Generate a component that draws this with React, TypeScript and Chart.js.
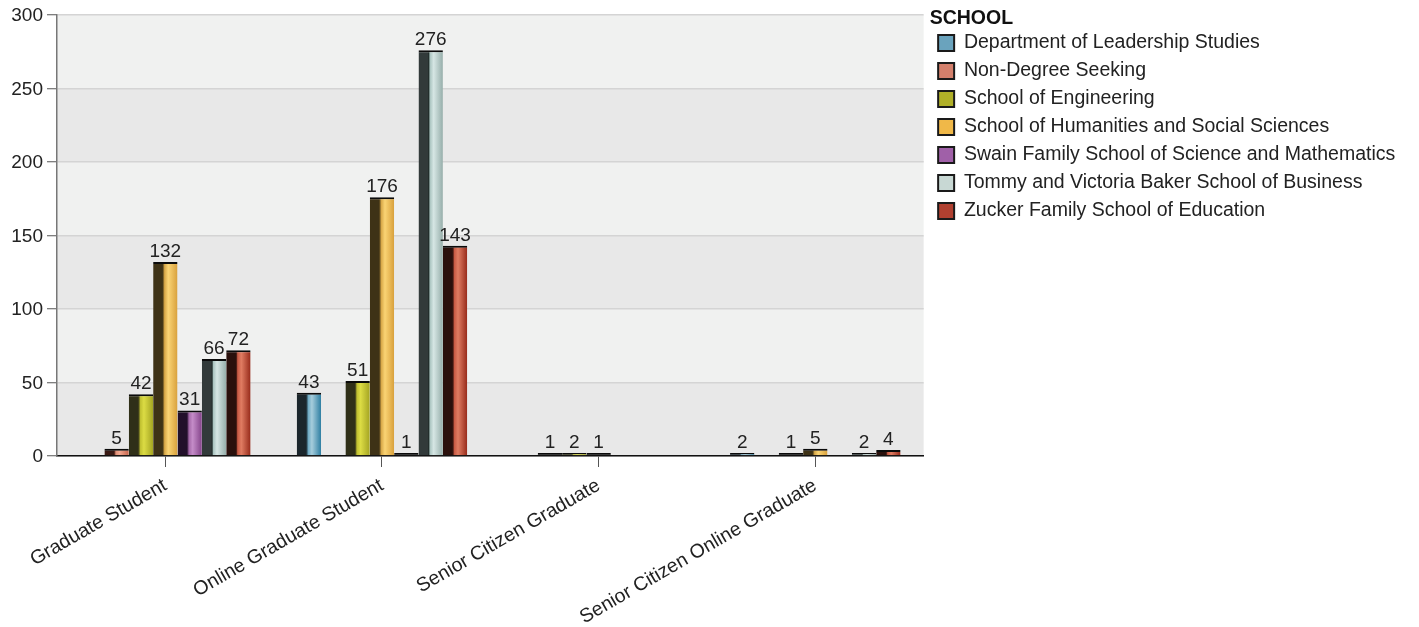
import React, { useEffect, useRef } from 'react';
import { Chart, registerables } from 'chart.js';

Chart.register(...registerables);

const categories = [
  'Graduate Student',
  'Online Graduate Student',
  'Senior Citizen Graduate',
  'Senior Citizen Online Graduate',
];

const seriesNames = [
  'Department of Leadership Studies',
  'Non-Degree Seeking',
  'School of Engineering',
  'School of Humanities and Social Sciences',
  'Swain Family School of Science and Mathematics',
  'Tommy and Victoria Baker School of Business',
  'Zucker Family School of Education',
];

const leadership = [null, 43, null, 2];
const nonDegree = [5, null, 1, null];
const engineering = [42, 51, 2, 1];
const humanities = [132, 176, 1, 5];
const swain = [31, 1, null, null];
const baker = [66, 276, null, 2];
const zucker = [72, 143, null, 4];

const seriesValues = [leadership, nonDegree, engineering, humanities, swain, baker, zucker];

const yTicks = [0, 50, 100, 150, 200, 250, 300];

const palette = [
  { dark: '#1b262c', edge: '#2c4a58', mid: '#6eaac4', light: '#a6cddc', right: '#2d7ea2', swatch: '#6aa3bd' },
  { dark: '#3a1a14', edge: '#6a3428', mid: '#e09078', light: '#f2a890', right: '#c8644c', swatch: '#d4806c' },
  { dark: '#2f2f18', edge: '#55551e', mid: '#c0c030', light: '#dcdc44', right: '#a4a422', swatch: '#b0b028' },
  { dark: '#3e3216', edge: '#7a6028', mid: '#d8a848', light: '#fad474', right: '#d8a03c', swatch: '#f0b848' },
  { dark: '#22102a', edge: '#4a2a52', mid: '#a468a8', light: '#c48cc8', right: '#84448a', swatch: '#a060a8' },
  { dark: '#323a3a', edge: '#1e2a28', mid: '#aac4c0', light: '#d6e6e4', right: '#96aeaa', swatch: '#c8d8d4' },
  { dark: '#2a100c', edge: '#4a1c14', mid: '#c85a44', light: '#e07c62', right: '#962a1a', swatch: '#b04030' },
];

const CAT_PCT = 0.787;
const FONT = '"Liberation Sans", Arial, sans-serif';
const LEGEND_MAX_W = 520;

function barFill(di: number) {
  return (ctx: any) => {
    const chart = ctx.chart;
    const xs = chart.scales && chart.scales.x;
    const ys = chart.scales && chart.scales.y;
    const p = palette[di];
    if (!xs || !ys || !chart.chartArea || ctx.type !== 'data') return p.swatch;
    const v = ctx.raw;
    if (typeof v === 'number' && ys.getPixelForValue(0) - ys.getPixelForValue(v) < 2.5) return '#111';
    const step = xs.getPixelForValue(1) - xs.getPixelForValue(0);
    const groupW = step * CAT_PCT;
    const bw = groupW / seriesValues.length;
    const left = xs.getPixelForValue(ctx.dataIndex) - groupW / 2 + bw * di;
    const g = chart.ctx.createLinearGradient(left, 0, left + bw, 0);
    g.addColorStop(0, p.dark);
    g.addColorStop(0.38, p.dark);
    g.addColorStop(0.42, p.edge);
    g.addColorStop(0.47, p.mid);
    g.addColorStop(0.62, p.light);
    g.addColorStop(1, p.right);
    return g;
  };
}

const bandsPlugin = {
  id: 'bands',
  beforeDraw(chart: any) {
    const { ctx, chartArea } = chart;
    const ys = chart.scales.y;
    ctx.save();
    for (let i = 0; i < yTicks.length - 1; i++) {
      const yTop = ys.getPixelForValue(yTicks[i + 1]);
      const yBot = ys.getPixelForValue(yTicks[i]);
      ctx.fillStyle = i % 2 === 0 ? '#e8e8e8' : '#f0f1f0';
      ctx.fillRect(chartArea.left, yTop, chartArea.right - chartArea.left, yBot - yTop);
    }
    ctx.restore();
  },
};

const valueLabelPlugin = {
  id: 'valueLabels',
  afterDatasetsDraw(chart: any) {
    const { ctx } = chart;
    ctx.save();
    ctx.font = `19px ${FONT}`;
    ctx.fillStyle = '#222';
    ctx.textAlign = 'center';
    ctx.textBaseline = 'alphabetic';
    chart.data.datasets.forEach((ds: any, di: number) => {
      const meta = chart.getDatasetMeta(di);
      meta.data.forEach((el: any, i: number) => {
        const v = ds.data[i];
        if (v === null || v === undefined) return;
        ctx.fillText(String(v), el.x, el.y - 5);
      });
    });
    ctx.restore();
  },
};

// let the right-hand legend take the width its labels need
const legendWidthPlugin = {
  id: 'legendWidth',
  beforeLayout(chart: any) {
    const lg = chart.legend;
    if (lg && !lg.__patched) {
      const orig = lg.update;
      lg.update = function (w: number, h: number, m: any) {
        return orig.call(this, LEGEND_MAX_W, h, m);
      };
      lg.__patched = true;
    }
  },
};

export default function App() {
  const canvasRef = useRef<HTMLCanvasElement | null>(null);

  useEffect(() => {
    document.body.style.margin = '0';
    const canvas = canvasRef.current;
    if (!canvas) return;
    const chart = new Chart(canvas, {
      type: 'bar',
      data: {
        labels: categories,
        datasets: seriesValues.map((vals, di) => ({
          label: seriesNames[di],
          data: vals,
          backgroundColor: barFill(di),
          borderColor: '#0a0a0a',
          borderWidth: { top: 2, left: 0, right: 0, bottom: 0 },
          borderSkipped: 'bottom',
          barPercentage: 1,
          categoryPercentage: CAT_PCT,
          minBarLength: 3,
        })),
      },
      options: {
        animation: false,
        responsive: false,
        maintainAspectRatio: false,
        layout: { padding: { top: 0, right: 13.75, left: 0, bottom: 0 } },
        scales: {
          x: {
            offset: true,
            grid: {
              display: true,
              offset: false,
              drawOnChartArea: false,
              drawTicks: true,
              tickLength: 11,
              tickColor: '#555',
              tickWidth: 1,
            },
            border: { display: true, color: '#111', width: 1.5 },
            ticks: {
              minRotation: 30,
              maxRotation: 30,
              autoSkip: false,
              padding: 7,
              color: '#222',
              font: { family: FONT, size: 19.5 },
            },
            afterFit: (s: any) => {
              s.height = 627 - 456;
            },
          },
          y: {
            min: 0,
            max: 300,
            ticks: {
              stepSize: 50,
              padding: 4,
              labelOffset: 1,
              color: '#222',
              font: { family: FONT, size: 19 },
            },
            grid: {
              color: '#d4d4d4',
              lineWidth: 1.5,
              tickColor: '#555',
              tickWidth: 1,
              tickLength: 10,
              drawTicks: true,
            },
            border: { display: true, color: '#777', width: 1.5 },
            afterFit: (s: any) => {
              s.width = 57;
              s.paddingTop = 15;
            },
          },
          gap: {
            type: 'linear',
            position: 'right',
            display: true,
            grid: { display: false, drawTicks: false },
            border: { display: false },
            ticks: { display: false },
            afterFit: (s: any) => {
              s.width = 6;
            },
          },
        },
        plugins: {
          tooltip: { enabled: false },
          legend: {
            display: true,
            position: 'right',
            align: 'start',
            title: {
              display: true,
              text: 'SCHOOL',
              position: 'start',
              color: '#111',
              font: { family: FONT, size: 19.5, weight: 'bold', lineHeight: 0.8 },
              padding: { top: 9.25, bottom: 0 },
            },
            labels: {
              boxWidth: 16,
              boxHeight: 16,
              padding: 8.5,
              color: '#222',
              font: { family: FONT, size: 19.5 },
              generateLabels: (ch: any) =>
                ch.data.datasets.map((ds: any, i: number) => ({
                  text: ds.label,
                  fillStyle: palette[i].swatch,
                  strokeStyle: '#1a1a1a',
                  lineWidth: 2,
                  fontColor: '#222',
                  hidden: false,
                  datasetIndex: i,
                })),
            },
          },
        },
      },
      plugins: [bandsPlugin, valueLabelPlugin, legendWidthPlugin],
    } as any);
    return () => {
      chart.destroy();
    };
  }, []);

  return (
    <div style={{ width: 1419, height: 627, position: 'relative', overflow: 'hidden', background: '#fff' }}>
      <canvas ref={canvasRef} width={1419} height={627} style={{ display: 'block', width: 1419, height: 627 }} />
    </div>
  );
}
